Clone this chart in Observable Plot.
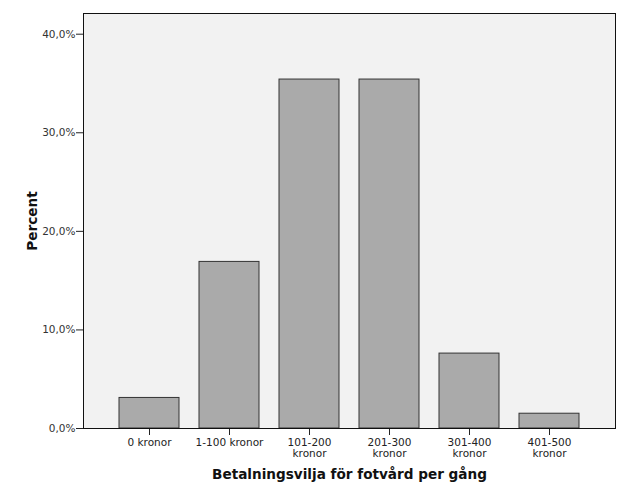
<!DOCTYPE html>
<html>
<head>
<meta charset="utf-8">
<script src="https://cdn.jsdelivr.net/npm/d3@7"></script>
<script src="https://cdn.jsdelivr.net/npm/@observablehq/plot@0.6"></script>
<style>
  html, body { margin: 0; padding: 0; background: #ffffff; }
  #chart { width: 629px; height: 504px; }
</style>
</head>
<body>
<div id="chart"></div>
<script>
const categories = ["0 kronor", "1-100 kronor", "101-200 kronor", "201-300 kronor", "301-400 kronor", "401-500 kronor"];
const tickLabels = ["0 kronor", "1-100 kronor", "101-200\nkronor", "201-300\nkronor", "301-400\nkronor", "401-500\nkronor"];
const percents = [3.1, 16.9, 35.4, 35.4, 7.6, 1.5];
const yTicks = [0, 10, 20, 30, 40];
const xTitle = "Betalningsvilja för fotvård per gång";
const yTitle = "Percent";

const data = categories.map((c, i) => ({cat: c, pct: percents[i]}));

const chart = Plot.plot({
  width: 629,
  height: 504,
  marginLeft: 83,
  marginRight: 14,
  marginTop: 13,
  marginBottom: 76,
  style: {fontFamily: "DejaVu Sans, sans-serif", fontSize: "10.5px", background: "#ffffff", color: "#222"},
  x: {domain: categories, paddingInner: 0.25, paddingOuter: 0.45, label: null},
  y: {domain: [0, 42.1], label: null},
  marks: [
    Plot.frame({fill: "#f2f2f2", stroke: null}),
    Plot.barY(data, {x: "cat", y: "pct", fill: "#aaaaaa", stroke: "#333", strokeWidth: 1}),
    Plot.axisY({ticks: yTicks, tickSize: 7, tickPadding: 1, label: null,
      tickFormat: d => d.toFixed(1).replace(".", ",") + "%", fill: "#333"}),
    Plot.axisX({tickSize: 7, tickPadding: 3, label: null,
      tickFormat: d => tickLabels[categories.indexOf(d)], fill: "#222", lineHeight: 1.05}),
    Plot.frame({stroke: "#111", strokeWidth: 1}),
    Plot.text([xTitle], {frameAnchor: "bottom", dy: 46, lineAnchor: "middle", textAnchor: "middle",
      fontWeight: "bold", fontSize: 13.6, fill: "#111"}),
    Plot.text([yTitle], {frameAnchor: "left", dx: -51, rotate: -90, textAnchor: "middle", lineAnchor: "middle",
      fontWeight: "bold", fontSize: 13.6, fill: "#111"})
  ]
});
document.getElementById("chart").appendChild(chart);
</script>
</body>
</html>
